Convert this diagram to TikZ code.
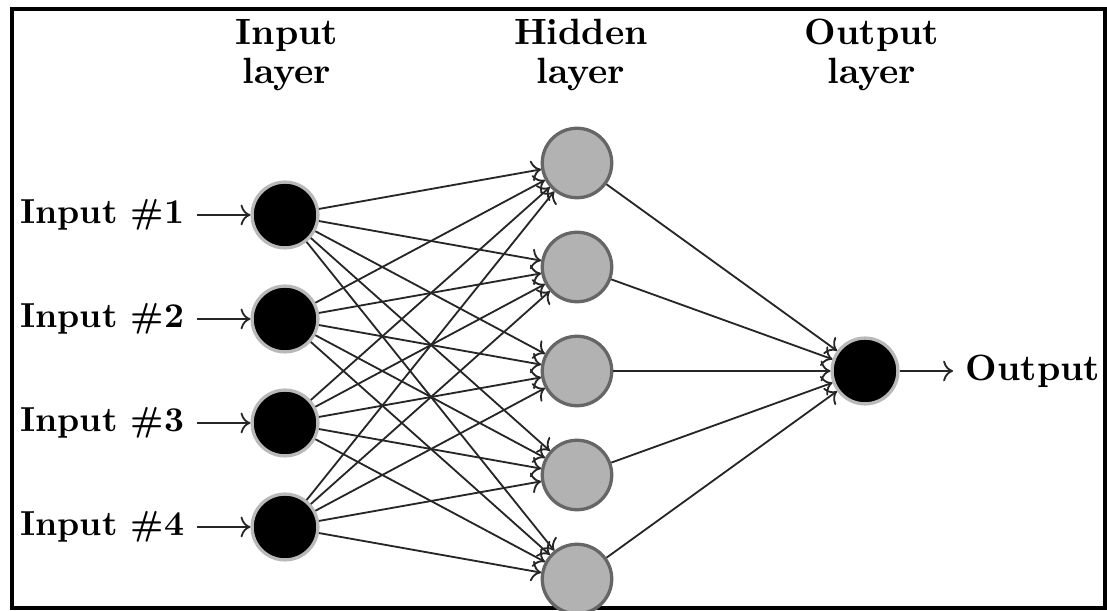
\documentclass[tikz,border=0pt]{standalone}
\usetikzlibrary{arrows.meta}
\begin{document}
\begin{tikzpicture}[x=0.009615cm,y=-0.009615cm,font=\bfseries,
  neuron/.style={circle,inner sep=0pt,line width=0.9pt},
  inneuron/.style={neuron,minimum size=18pt,fill=black,draw=gray!55},
  hidneuron/.style={neuron,minimum size=19pt,fill=gray!60,draw=gray!80!black},
  outneuron/.style={neuron,minimum size=18pt,fill=black,draw=gray!55},
  conn/.style={->,line width=0.5pt,draw=black!85},
  lbl/.style={inner sep=0pt,anchor=base},
  inlbl/.style={anchor=east,font=\fontsize{9.5}{11}\selectfont\bfseries},
  frame/.style={line width=1.3pt}]
\useasboundingbox (0,0) rectangle (1107,611);
\draw[frame] (12,9) rectangle (1105,608);

% layer titles
\node[lbl] (t1a) at (287,45) {Input};
\node[lbl] (t1b) at (287,84) {layer};
\node[lbl] (t2a) at (581,45) {Hidden};
\node[lbl] (t2b) at (581,84) {layer};
\node[lbl] (t3a) at (872,45) {Output};
\node[lbl] (t3b) at (872,84) {layer};

% input layer
\foreach \i/\y in {1/215,2/319,3/423,4/527}{
  \node[inneuron] (I\i) at (285,\y) {};
  \node[inlbl] (L\i) at (197,\y) {Input \#\i};
  \draw[conn] (L\i) -- (I\i);
}
% hidden layer
\foreach \j/\y in {1/163,2/267,3/371,4/475,5/579}{
  \node[hidneuron] (H\j) at (577,\y) {};
}
% output
\node[outneuron] (O) at (865,371) {};
\node[anchor=west] (OL) at (953,371) {Output};
\draw[conn] (O) -- (OL);

\foreach \i in {1,...,4}
  \foreach \j in {1,...,5}
    \draw[conn] (I\i) -- (H\j);
\foreach \j in {1,...,5}
  \draw[conn] (H\j) -- (O);
\end{tikzpicture}
\end{document}
